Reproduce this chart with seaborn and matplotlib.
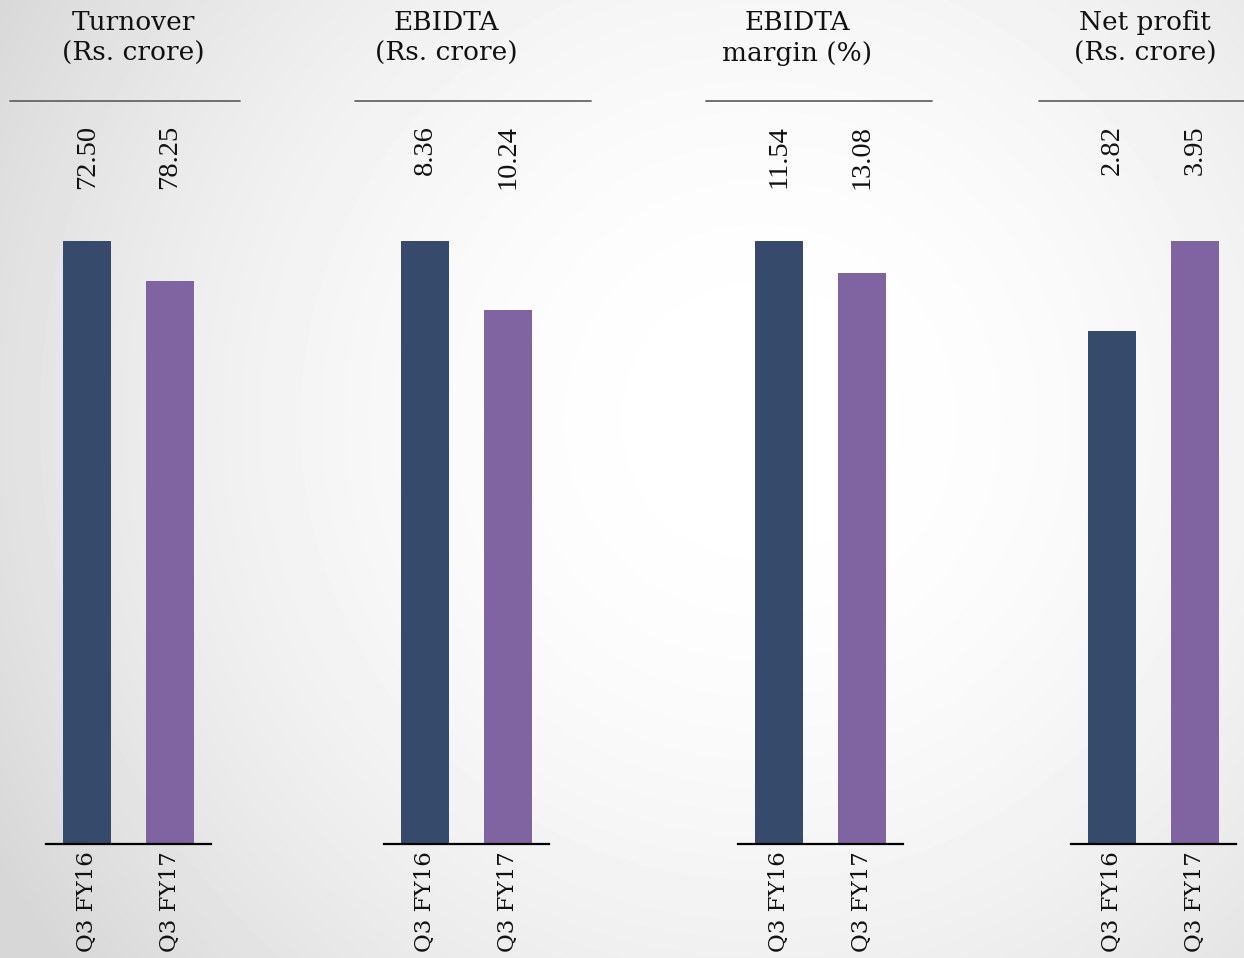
import numpy as np
import seaborn as sns
import matplotlib.pyplot as plt
import matplotlib.transforms as mtransforms
from matplotlib.lines import Line2D

periods = ["Q3 FY16", "Q3 FY17"]
titles = ["Turnover\n(Rs. crore)", "EBIDTA\n(Rs. crore)", "EBIDTA\nmargin (%)", "Net profit\n(Rs. crore)"]

# numbers printed above the bars
turnover_lbl = ["72.50", "78.25"]
ebidta_lbl = ["8.36", "10.24"]
margin_lbl = ["11.54", "13.08"]
profit_lbl = ["2.82", "3.95"]

# bar heights as drawn in the picture (% of the tallest bar) - they don't follow the labels
turnover_h = [100, 93.4]
ebidta_h = [100, 88.6]
margin_h = [100, 94.7]
profit_h = [85.1, 100]

colors = ["#364b6b", "#8064a2"]

sns.set_style("white")
serif = ["DejaVu Serif"]
num_font = ["Liberation Serif", "DejaVu Serif"]

W, H = 1244, 958
fig = plt.figure(figsize=(W / 100, H / 100), dpi=100)

# grey-to-white radial background, lightest a bit right of centre
bg = fig.add_axes([0, 0, 1, 1], zorder=-5)
yy, xx = np.mgrid[0:H, 0:W]
r = np.sqrt(((xx - 760) / 800) ** 2 + ((yy - 420) / 800) ** 2)
shade = 1 - 0.13 * np.clip(r, 0, 1.1) ** 2
bg.imshow(shade, cmap="gray", vmin=0, vmax=1, aspect="auto", interpolation="bilinear")
bg.axis("off")

panels = [
    (titles[0], turnover_h, turnover_lbl, 46, 133, (10, 240)),
    (titles[1], ebidta_h, ebidta_lbl, 384, 446, (355, 591)),
    (titles[2], margin_h, margin_lbl, 738, 797, (706, 932)),
    (titles[3], profit_h, profit_lbl, 1071, 1145, (1039, 1244)),
]

for title, heights, lbls, left, tx, (l0, l1) in panels:
    ax = fig.add_axes([left / W, 1 - 844 / H, 165 / W, 603 / H])
    ax.patch.set_alpha(0)
    sns.barplot(x=periods, y=heights, hue=periods, palette=colors, width=0.585,
                saturation=1, legend=False, linewidth=0, ax=ax)
    ax.set_ylim(0, 100)
    ax.set_xlim(-0.5, 1.5)
    ax.set_yticks([])
    sns.despine(ax=ax, left=True)
    ax.spines["bottom"].set_color("black")
    ax.spines["bottom"].set_linewidth(1.6)
    ax.tick_params(axis="x", length=0, pad=5)
    ax.set_xticks(range(len(periods)))
    ax.set_xticklabels(periods, rotation=90, va="top", ha="center",
                       family=serif, fontsize=16.5, color="#111111")

    trans = mtransforms.blended_transform_factory(ax.transData, fig.transFigure)
    for i, t in enumerate(lbls):
        ax.text(i, 1 - 125 / H, t, transform=trans, rotation=90, ha="center", va="top",
                family=num_font, fontsize=20.5, color="#111111")

    fig.text(tx / W, 1 - 38 / H, title, ha="center", va="center", multialignment="center",
             family=serif, fontsize=19, color="#111111", linespacing=1.3)
    fig.add_artist(Line2D([l0 / W, l1 / W], [1 - 101 / H, 1 - 101 / H],
                          transform=fig.transFigure, color="#666666", lw=1.3))

fig.savefig("out.png", dpi=100)
